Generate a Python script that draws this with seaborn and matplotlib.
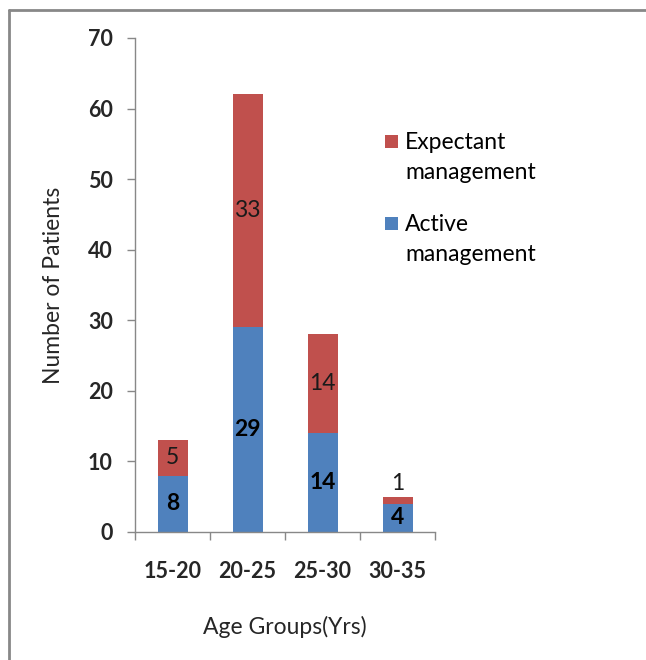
import matplotlib
matplotlib.use("Agg")
import matplotlib.pyplot as plt
from matplotlib.lines import Line2D
from matplotlib.patches import Rectangle
import seaborn as sns
import pandas as pd

age_groups = ["15-20", "20-25", "25-30", "30-35"]
active = [8, 29, 14, 4]
expectant = [5, 33, 14, 1]
y_ticks = [0, 10, 20, 30, 40, 50, 60, 70]
series_names = ["Expectant\nmanagement", "Active\nmanagement"]

BLUE = "#4F81BD"
RED = "#C0504D"
GRID = "#888888"

sns.set_theme(style="white")
plt.rcParams["font.family"] = ["Lato", "DejaVu Sans"]

df = pd.DataFrame({
    "age": age_groups,
    "active": active,
    "expectant": expectant,
})
df["total"] = df["active"] + df["expectant"]

W, H = 646, 660
fig = plt.figure(figsize=(W / 100, H / 100), dpi=100)
ax = fig.add_axes([135 / W, 1 - 532 / H, 300 / W, 494 / H])

# stacked bars: full height in red, active portion in blue drawn over it
sns.barplot(data=df, x="age", y="total", color=RED, width=0.4,
            saturation=1, ax=ax, linewidth=0)
sns.barplot(data=df, x="age", y="active", color=BLUE, width=0.4,
            saturation=1, ax=ax, linewidth=0)

ax.set_xlim(-0.5, len(age_groups) - 0.5)
ax.set_ylim(0, 70)
ax.set_yticks(y_ticks)
ax.set_yticklabels([str(t) for t in y_ticks], fontsize=15.5, fontweight="bold")
ax.set_xticks(range(len(age_groups)))
ax.set_xticklabels(age_groups, fontsize=15.5, fontweight="bold")
ax.tick_params(axis="x", which="major", length=0, pad=21)
ax.set_xticks([i - 0.5 for i in range(len(age_groups) + 1)], minor=True)
ax.tick_params(axis="x", which="minor", length=6, color=GRID, width=1,
               direction="out", bottom=True)
ax.tick_params(axis="y", length=6, color=GRID, width=1, direction="out",
               left=True, pad=10)

for side in ["top", "right"]:
    ax.spines[side].set_visible(False)
for side in ["left", "bottom"]:
    ax.spines[side].set_color(GRID)
    ax.spines[side].set_linewidth(1)

ax.set_xlabel("Age Groups(Yrs)", fontsize=16.5, labelpad=24)
ax.set_ylabel("Number of Patients", fontsize=16.5, labelpad=17)

# value labels
for i, (a, e) in enumerate(zip(active, expectant)):
    ax.text(i, a / 2, str(a), ha="center", va="center",
            fontsize=16.5, fontweight="bold", color="black")
    if e >= 3:
        ax.text(i, a + e / 2, str(e), ha="center", va="center",
                fontsize=16.5, color="#1a1a1a")
    else:
        ax.text(i, a + e + 0.4, str(e), ha="center", va="bottom",
                fontsize=16.5, color="#1a1a1a")

# legend: square key aligned with the first line of each two-line label
legend_colors = [RED, BLUE]
legend_baselines = [149, 231]
for name, col, base in zip(series_names, legend_colors, legend_baselines):
    fig.add_artist(Rectangle((385 / W, 1 - (base - 1) / H), 13 / W, 13 / H,
                             facecolor=col, edgecolor="none",
                             transform=fig.transFigure))
    for k, line in enumerate(name.split("\n")):
        fig.text(405 / W, 1 - (base + 30 * k) / H, line, fontsize=16.5,
                 ha="left", va="baseline", color="black")

# top and left frame lines of the figure
fig.add_artist(Line2D([0.014, 1.0], [0.985, 0.985], color=GRID, lw=2,
                      transform=fig.transFigure))
fig.add_artist(Line2D([0.014, 0.014], [0.0, 0.985], color=GRID, lw=2,
                      transform=fig.transFigure))

fig.savefig("out.png", dpi=100, facecolor="white")
